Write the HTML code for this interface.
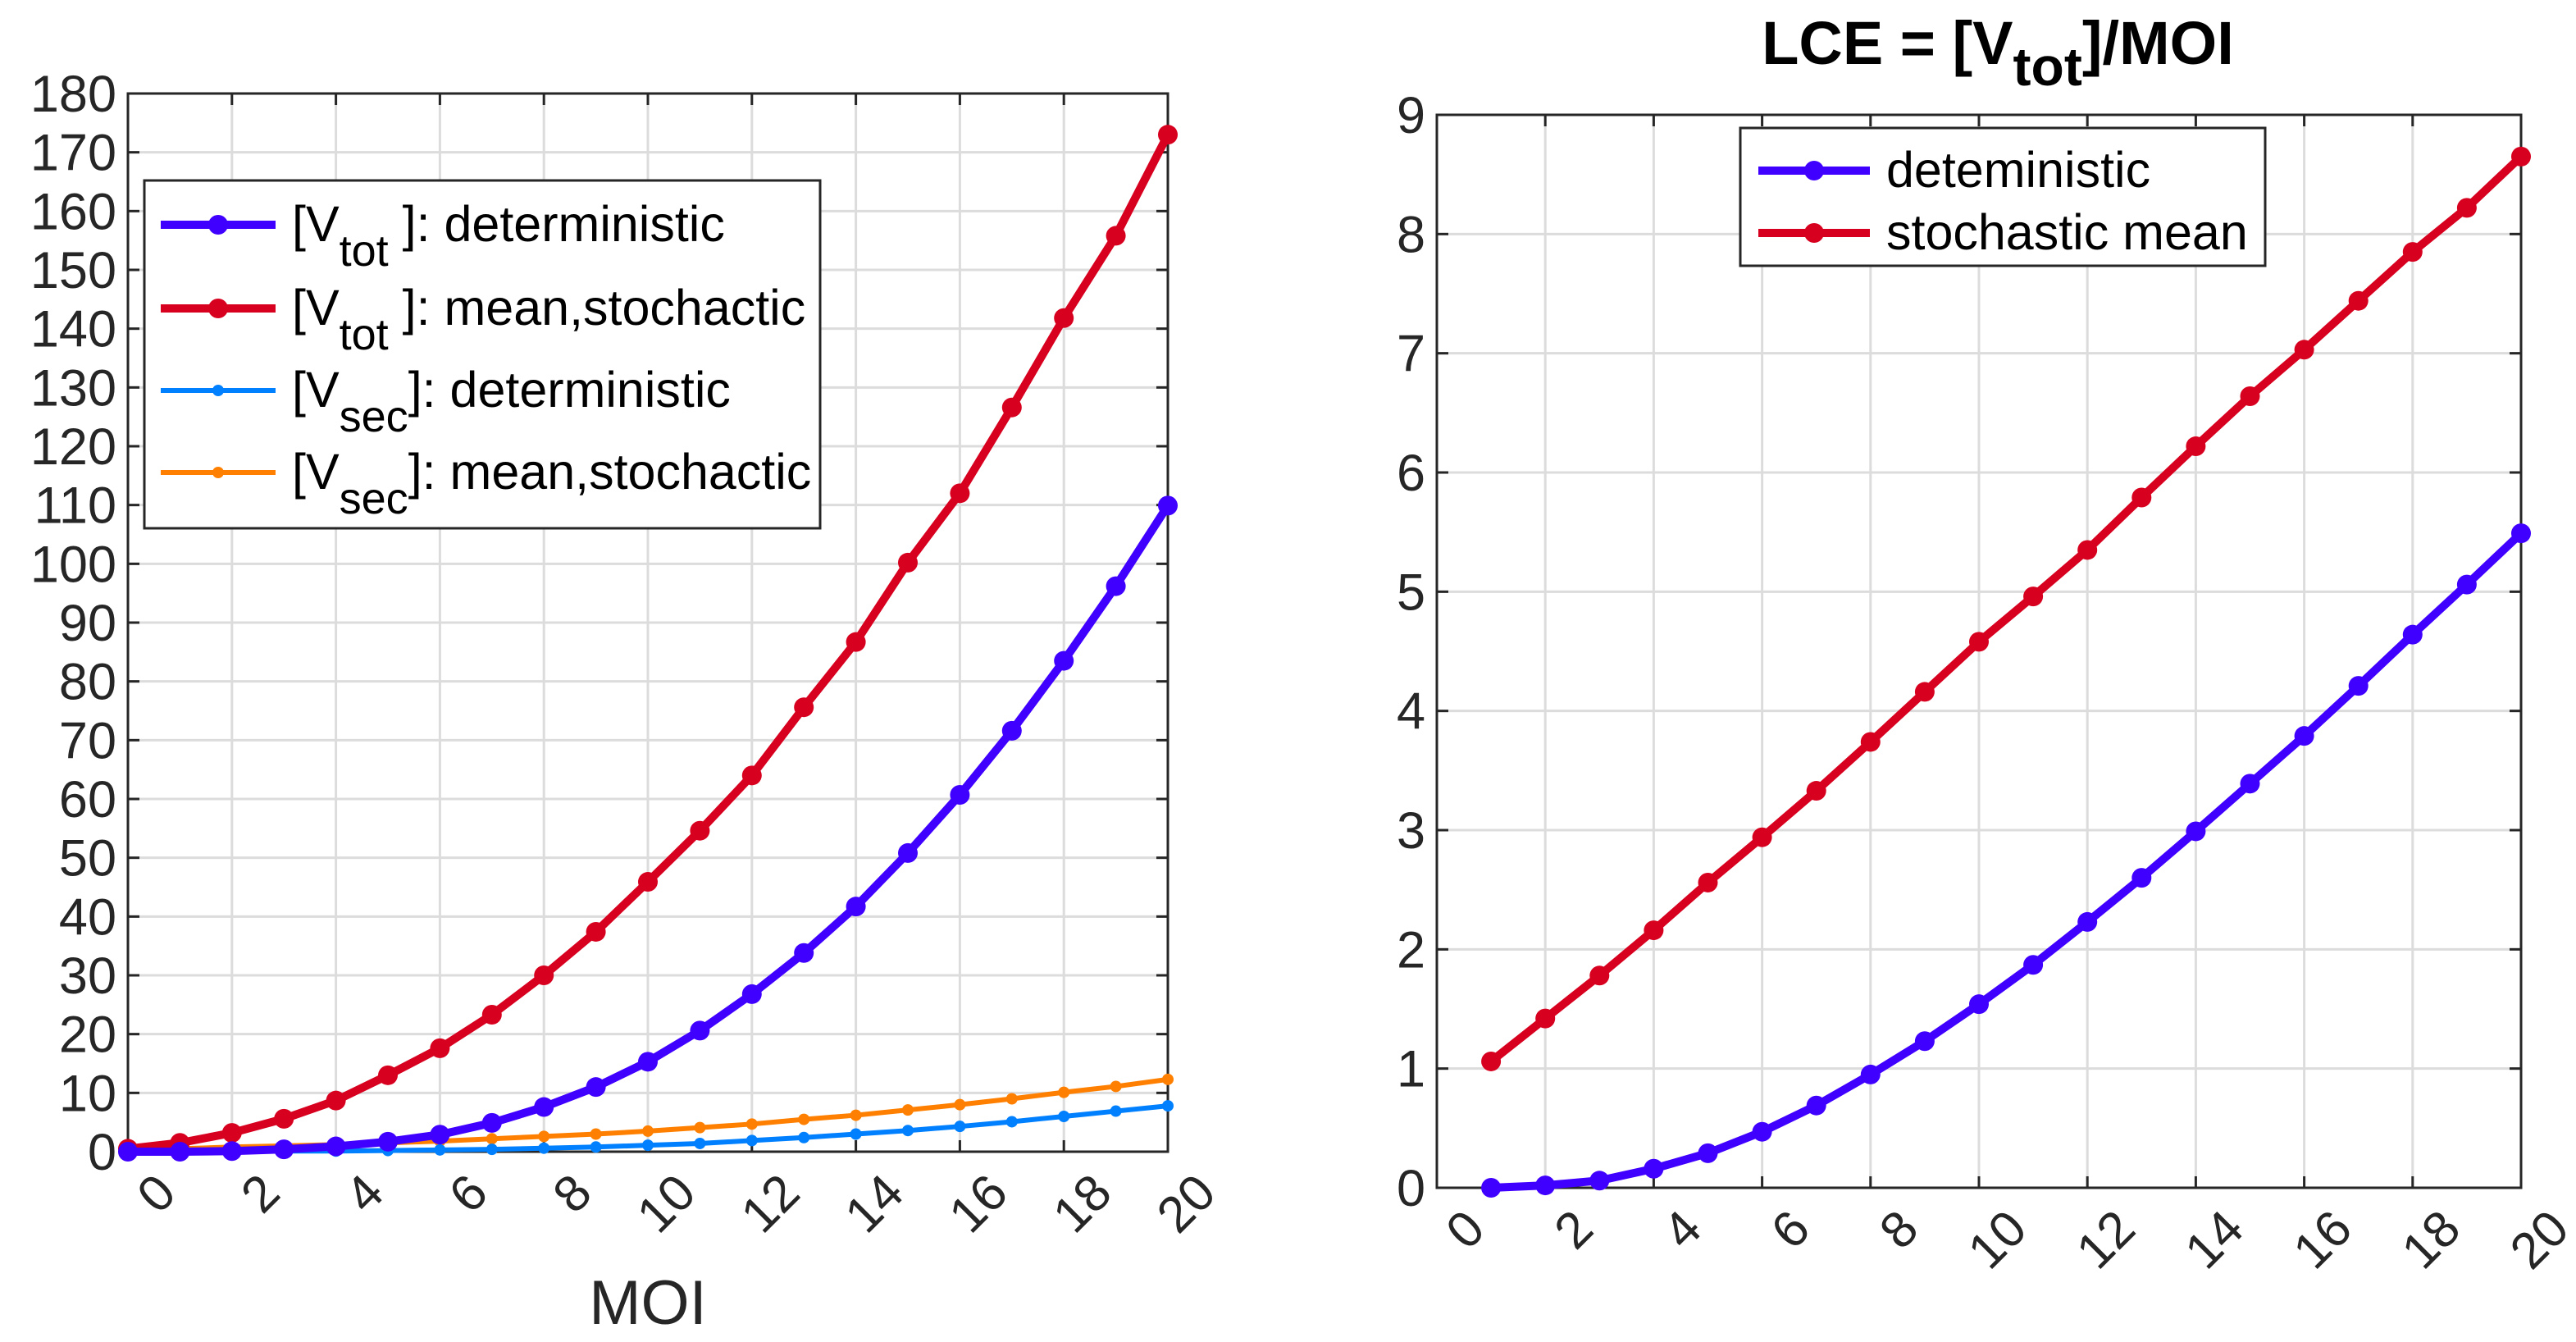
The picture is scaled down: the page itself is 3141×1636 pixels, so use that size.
<!DOCTYPE html>
<html><head><meta charset="utf-8"><style>
html,body{margin:0;padding:0;background:#fff;}
svg{display:block;font-family:"Liberation Sans",Arial,sans-serif;}
</style></head><body>
<svg id="fig" width="3141" height="1636" viewBox="0 0 3141 1636" xmlns="http://www.w3.org/2000/svg"></svg>
<script>
const xsLeft = [0,1,2,3,4,5,6,7,8,9,10,11,12,13,14,15,16,17,18,19,20];
const vtotDet = [0,0,0.1,0.4,0.9,1.7,2.9,4.9,7.6,11,15.3,20.6,26.8,33.8,41.7,50.8,60.7,71.6,83.5,96.2,109.9];
const vtotSto = [0.5,1.5,3.2,5.6,8.7,13,17.6,23.3,30,37.4,45.9,54.6,64,75.6,86.7,100.2,112,126.6,141.8,155.8,173];
const vsecDet = [0,0,0,0.1,0.1,0.2,0.3,0.4,0.6,0.8,1.1,1.4,1.9,2.4,3,3.6,4.3,5.1,6,6.9,7.8];
const vsecSto = [0.3,0.5,0.8,1,1.2,1.5,1.8,2.2,2.6,3,3.5,4.1,4.7,5.5,6.2,7.1,8,9,10.1,11.1,12.3];
const leftYTicks = [0,10,20,30,40,50,60,70,80,90,100,110,120,130,140,150,160,170,180];
const xTicks = [0,2,4,6,8,10,12,14,16,18,20];
const xsRight = [1,2,3,4,5,6,7,8,9,10,11,12,13,14,15,16,17,18,19,20];
const lceDet = [0,0.02,0.06,0.16,0.29,0.47,0.69,0.95,1.23,1.54,1.87,2.23,2.6,2.99,3.39,3.79,4.21,4.64,5.06,5.49];
const lceSto = [1.06,1.42,1.78,2.16,2.56,2.94,3.33,3.74,4.16,4.58,4.96,5.35,5.79,6.22,6.64,7.03,7.44,7.85,8.22,8.65];
const rightYTicks = [0,1,2,3,4,5,6,7,8,9];

const NS="http://www.w3.org/2000/svg";
const svg=document.getElementById('fig');
function mk(tag,attrs,parent){const e=document.createElementNS(NS,tag);for(const k in attrs)e.setAttribute(k,attrs[k]);(parent||svg).appendChild(e);return e;}
const BLUE="#4000FF",RED="#D7001F",LBLUE="#0080FF",ORANGE="#FF8000",TXT="#262626";

function axes(name,L,R,T,B,xmin,xmax,ymin,ymax,yt){
  const g=mk('g',{});
  
  
  const sx=v=>L+(v-xmin)/(xmax-xmin)*(R-L);
  const sy=v=>B-(v-ymin)/(ymax-ymin)*(B-T);
  mk('rect',{x:L,y:T,width:R-L,height:B-T,fill:'#fff'},g);
  xTicks.forEach(t=>{
    const l=mk('line',{x1:sx(t),x2:sx(t),y1:T,y2:B,stroke:'#dcdcdc','stroke-width':3},g);
    
    
  });
  yt.forEach(t=>{
    const l=mk('line',{x1:L,x2:R,y1:sy(t),y2:sy(t),stroke:'#dcdcdc','stroke-width':3},g);
    
    
  });
  xTicks.forEach(t=>{
    mk('line',{x1:sx(t),x2:sx(t),y1:B,y2:B-14,stroke:TXT,'stroke-width':3},g);
    mk('line',{x1:sx(t),x2:sx(t),y1:T,y2:T+14,stroke:TXT,'stroke-width':3},g);
    const x=sx(t)+50,y=B+42;
    const tx=mk('text',{x:x,y:y,'text-anchor':'end','font-size':62,fill:TXT,transform:`rotate(-45 ${x} ${y})`,'dominant-baseline':'middle'},g);
    tx.textContent=t;
    
    
  });
  yt.forEach(t=>{
    mk('line',{x1:L,x2:L+14,y1:sy(t),y2:sy(t),stroke:TXT,'stroke-width':3},g);
    mk('line',{x1:R,x2:R-14,y1:sy(t),y2:sy(t),stroke:TXT,'stroke-width':3},g);
    const tx=mk('text',{x:L-14,y:sy(t)+22,'text-anchor':'end','font-size':63,fill:TXT},g);
    tx.textContent=t;
    
    
  });
  mk('rect',{x:L,y:T,width:R-L,height:B-T,fill:'none',stroke:TXT,'stroke-width':3},g);
  return {g,sx,sy};
}
function series(ax,name,xs,ys,color,w,r){
  const g=mk('g',{},ax.g);
  
  
  const pts=xs.map((x,i)=>ax.sx(x)+','+ax.sy(ys[i])).join(' ');
  mk('polyline',{points:pts,fill:'none',stroke:color,'stroke-width':w,'stroke-linejoin':'round'},g);
  xs.forEach((x,i)=>{
    const c=mk('circle',{cx:ax.sx(x),cy:ax.sy(ys[i]),r:r,fill:color},g);
    
    
  });
}
function legEntry(g,name,x1,x2,y,color,w,r,parts,tx){
  const e=mk('g',{},g);
  
  
  mk('line',{x1:x1,x2:x2,y1:y,y2:y,stroke:color,'stroke-width':w},e);
  mk('circle',{cx:(x1+x2)/2,cy:y,r:r,fill:color},e);
  const t=mk('text',{x:tx,y:y+20,'font-size':61,fill:'#000'},e);
  parts.forEach(p=>{const s=mk('tspan',p.sub?{'font-size':54,dy:30}:(p.up?{dy:-30}:{}),t);s.textContent=p.t;});
}

// Left chart
const A=axes('left-chart',156,1424,114,1404,0,20,0,180,leftYTicks);
series(A,'vsec-stochastic-line',xsLeft,vsecSto,ORANGE,6,7);
series(A,'vsec-deterministic-line',xsLeft,vsecDet,LBLUE,6,7);
series(A,'vtot-stochastic-line',xsLeft,vtotSto,RED,10,12);
series(A,'vtot-deterministic-line',xsLeft,vtotDet,BLUE,10,12);
const xl=mk('text',{x:790,y:1614,'text-anchor':'middle','font-size':76,fill:TXT});
xl.textContent='MOI';


const LG=mk('g',{});


mk('rect',{x:176,y:220,width:824,height:424,fill:'#fff',stroke:TXT,'stroke-width':3},LG);
legEntry(LG,'legend-vtot-deterministic',196,336,274,BLUE,10,12,[{t:'[V'},{t:'tot',sub:1},{t:' ]: deterministic',up:1}],356);
legEntry(LG,'legend-vtot-stochastic',196,336,376,RED,10,12,[{t:'[V'},{t:'tot',sub:1},{t:' ]: mean,stochactic',up:1}],356);
legEntry(LG,'legend-vsec-deterministic',196,336,476,LBLUE,6,7,[{t:'[V'},{t:'sec',sub:1},{t:']: deterministic',up:1}],356);
legEntry(LG,'legend-vsec-stochastic',196,336,576,ORANGE,6,7,[{t:'[V'},{t:'sec',sub:1},{t:']: mean,stochactic',up:1}],356);

// Right chart
const B2=axes('right-chart',1752,3074,140,1448,0,20,0,9,rightYTicks);
series(B2,'lce-stochastic-line',xsRight,lceSto,RED,10,12);
series(B2,'lce-deterministic-line',xsRight,lceDet,BLUE,10,12);
const ti=mk('text',{x:2436,y:78,'text-anchor':'middle','font-size':74,'font-weight':'bold',fill:'#000'});


[{t:'LCE = [V'},{t:'tot',sub:1},{t:']/MOI',up:1}].forEach(p=>{const s=mk('tspan',p.sub?{'font-size':66,dy:26}:(p.up?{dy:-26}:{}),ti);s.textContent=p.t;});
const RG=mk('g',{});


mk('rect',{x:2122,y:156,width:640,height:168,fill:'#fff',stroke:TXT,'stroke-width':3},RG);
legEntry(RG,'legend-deterministic',2144,2280,208,BLUE,10,12,[{t:'deteministic'}],2300);
legEntry(RG,'legend-stochastic-mean',2144,2280,284,RED,10,12,[{t:'stochastic mean'}],2300);
</script>
</body></html>
